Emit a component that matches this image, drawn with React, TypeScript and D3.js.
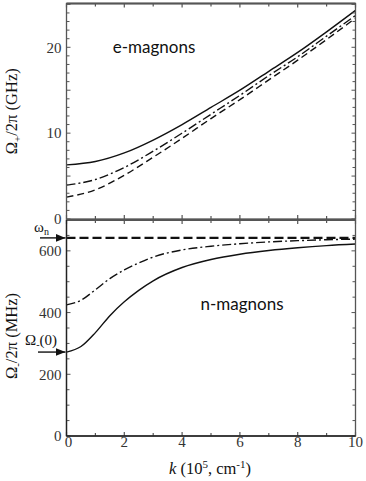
import * as React from 'react';
import * as d3 from 'd3';

// wavevector k (10^5 cm^-1)
const kE = [0, 1, 2, 3, 4, 5, 6, 7, 8, 9, 10];
// e-magnons, GHz
const eSolid = [6.3, 6.7, 7.7, 9.2, 11.0, 13.0, 15.0, 17.2, 19.4, 21.8, 24.3];
const eDashDot = [3.95, 4.6, 6.0, 7.9, 10.0, 12.2, 14.4, 16.7, 18.9, 21.3, 23.7];
const eDashed = [2.55, 3.4, 5.1, 7.2, 9.4, 11.7, 13.9, 16.2, 18.5, 20.9, 23.4];

// n-magnons, MHz
const kN = [0, 0.5, 1, 1.5, 2, 2.5, 3, 4, 5, 6, 7, 8, 9, 10];
const nSolid = [272, 290, 335, 390, 435, 472, 503, 546, 572, 589, 601, 610, 617, 622];
const nDashDot = [425, 440, 474, 510, 538, 561, 580, 603, 615, 623, 629, 633, 636, 638];
const nDashed = [642, 642, 642, 642, 642, 642, 642, 642, 642, 642, 642, 642, 642, 642];

const xTicks = [0, 2, 4, 6, 8, 10];
const topTicks = [0, 10, 20];
const botTicks = [0, 200, 400, 600];

const omegaN = 642;
const omegaMinus0 = 272;

const frame = '#555';
const serif = '"Liberation Serif", "DejaVu Serif", serif';
const sans = 'Lato, "Liberation Sans", sans-serif';

export default function App() {
  const x = d3.scaleLinear().domain([0, 10]).range([66.5, 355.5]);
  const yTop = d3.scaleLinear().domain([0, 25.1]).range([219, 3.5]);
  const yBot = d3.scaleLinear().domain([0, 700]).range([436, 220]);

  const lineTop = (vals: number[]) =>
    d3.line<number>().x((_, i) => x(kE[i])).y((d) => yTop(d)).curve(d3.curveMonotoneX)(vals) || '';
  const lineBot = (vals: number[]) =>
    d3.line<number>().x((_, i) => x(kN[i])).y((d) => yBot(d)).curve(d3.curveMonotoneX)(vals) || '';

  const x0 = x(0), x1 = x(10);
  const minorX = d3.range(0, 10.01, 1);
  const minorTop = d3.range(0, 25.01, 1);
  const minorBot = d3.range(0, 700.01, 50);

  const dashDot = '9,3,2,3';

  return (
    <svg width={366} height={481} style={{ position: 'absolute', left: 0, top: 0 }}>
      <defs>
        <marker id="arr" viewBox="0 0 10 10" refX="10" refY="5" markerWidth="7" markerHeight="7" orient="auto">
          <path d="M0,1 L10,5 L0,9 z" fill="#111" />
        </marker>
      </defs>
      <rect width={366} height={481} fill="#fff" />

      {/* curves top */}
      <path d={lineTop(eSolid)} fill="none" stroke="#111" strokeWidth={1.4} />
      <path d={lineTop(eDashDot)} fill="none" stroke="#111" strokeWidth={1.4} strokeDasharray={dashDot} />
      <path d={lineTop(eDashed)} fill="none" stroke="#111" strokeWidth={1.4} strokeDasharray="7,4" />

      {/* curves bottom */}
      <path d={lineBot(nSolid)} fill="none" stroke="#111" strokeWidth={1.4} />
      <path d={lineBot(nDashDot)} fill="none" stroke="#111" strokeWidth={1.4} strokeDasharray={dashDot} />
      <path d={lineBot(nDashed)} fill="none" stroke="#111" strokeWidth={2.2} strokeDasharray="9,4" />

      {/* ticks */}
      {minorX.map((v) => {
        const big = v % 2 === 0 ? 4 : 3;
        return (
          <g key={'xt' + v} stroke={frame} strokeWidth={1.2}>
            <line x1={x(v)} x2={x(v)} y1={yTop(25.1)} y2={yTop(25.1) + big} />
            <line x1={x(v)} x2={x(v)} y1={yTop(0)} y2={yTop(0) - big} />
            <line x1={x(v)} x2={x(v)} y1={yBot(700)} y2={yBot(700) + big} />
            <line x1={x(v)} x2={x(v)} y1={yBot(0)} y2={yBot(0) - big} />
          </g>
        );
      })}
      {minorTop.map((v) => {
        const len = v % 5 === 0 ? 4 : 3;
        return (
          <g key={'tt' + v} stroke={frame} strokeWidth={1}>
            <line x1={x0} x2={x0 + len} y1={yTop(v)} y2={yTop(v)} />
            <line x1={x1} x2={x1 - len} y1={yTop(v)} y2={yTop(v)} />
          </g>
        );
      })}
      {minorBot.map((v) => {
        const len = v % 200 === 0 ? 4 : 3;
        return (
          <g key={'bt' + v} stroke={frame} strokeWidth={1}>
            <line x1={x0} x2={x0 + len} y1={yBot(v)} y2={yBot(v)} />
            <line x1={x1} x2={x1 - len} y1={yBot(v)} y2={yBot(v)} />
          </g>
        );
      })}

      {/* frames */}
      <rect x={x0} y={yTop(25.1)} width={x1 - x0} height={yTop(0) - yTop(25.1)} fill="none" stroke={frame} strokeWidth={1.3} />
      <line x1={x0} x2={x1} y1={yTop(25.1)} y2={yTop(25.1)} stroke={frame} strokeWidth={2.2} />
      <rect x={x0} y={yBot(700)} width={x1 - x0} height={yBot(0) - yBot(700)} fill="none" stroke={frame} strokeWidth={1.3} />
      <line x1={x0} x2={x1} y1={yBot(700)} y2={yBot(700)} stroke={frame} strokeWidth={2} />
      <line x1={x0} x2={x0} y1={yBot(700)} y2={yBot(0)} stroke="#222" strokeWidth={1.3} />
      <line x1={x0} x2={x1} y1={yBot(0)} y2={yBot(0)} stroke="#222" strokeWidth={1.3} />

      {/* tick labels */}
      <g style={{ fontFamily: serif, fontSize: 15 }} fill="#333">
        {topTicks.map((v) => (
          <text key={'tl' + v} x={x0 - 5} y={yTop(v)} dy="0.35em" textAnchor="end">{v}</text>
        ))}
        {botTicks.map((v) => (
          <text key={'bl' + v} x={x0 - 5} y={yBot(v)} dy="0.35em" textAnchor="end">{v}</text>
        ))}
        {xTicks.map((v) => (
          <text key={'xl' + v} x={x(v) + (v === 0 ? 2 : 0)} y={447} textAnchor="middle">{v}</text>
        ))}
      </g>

      {/* axis titles */}
      <g style={{ fontFamily: serif, fontSize: 16.5 }} fill="#111">
        <text transform={`translate(17,${(yTop(0) + yTop(25.1)) / 2}) rotate(-90)`} textAnchor="middle">
          Ω<tspan fontSize={11} dy={4}>+</tspan><tspan dy={-4}>/2π (GHz)</tspan>
        </text>
        <text transform={`translate(17,${(yBot(0) + yBot(700)) / 2 + 8}) rotate(-90)`} textAnchor="middle">
          Ω<tspan fontSize={11} dy={4}>-</tspan><tspan dy={-4}>/2π (MHz)</tspan>
        </text>
        <text x={210} y={474} textAnchor="middle">
          <tspan fontStyle="italic">k</tspan> (10<tspan fontSize={11} dy={-6}>5</tspan><tspan dy={6}>, cm</tspan><tspan fontSize={11} dy={-6}>-1</tspan><tspan dy={6}>)</tspan>
        </text>
      </g>
      <g style={{ fontFamily: serif, fontSize: 15 }} fill="#111">
        <text x={34} y={232}>
          ω<tspan fontSize={10} dy={3}>n</tspan>
        </text>
        <text x={25} y={345}>
          Ω<tspan fontSize={10} dy={3}>-</tspan><tspan dy={-3}>(0)</tspan>
        </text>
      </g>

      {/* panel labels */}
      <text x={154} y={47} dy="0.35em" textAnchor="middle" style={{ fontFamily: sans, fontSize: 17 }} fill="#111">e-magnons</text>
      <text x={242} y={304} dy="0.35em" textAnchor="middle" style={{ fontFamily: sans, fontSize: 17 }} fill="#111">n-magnons</text>

      {/* arrows */}
      <line x1={40} x2={x0 - 1} y1={yBot(omegaN)} y2={yBot(omegaN)} stroke="#111" strokeWidth={1.4} markerEnd="url(#arr)" />
      <line x1={38} x2={x0 - 1} y1={yBot(omegaMinus0)} y2={yBot(omegaMinus0)} stroke="#111" strokeWidth={1.4} markerEnd="url(#arr)" />
    </svg>
  );
}
